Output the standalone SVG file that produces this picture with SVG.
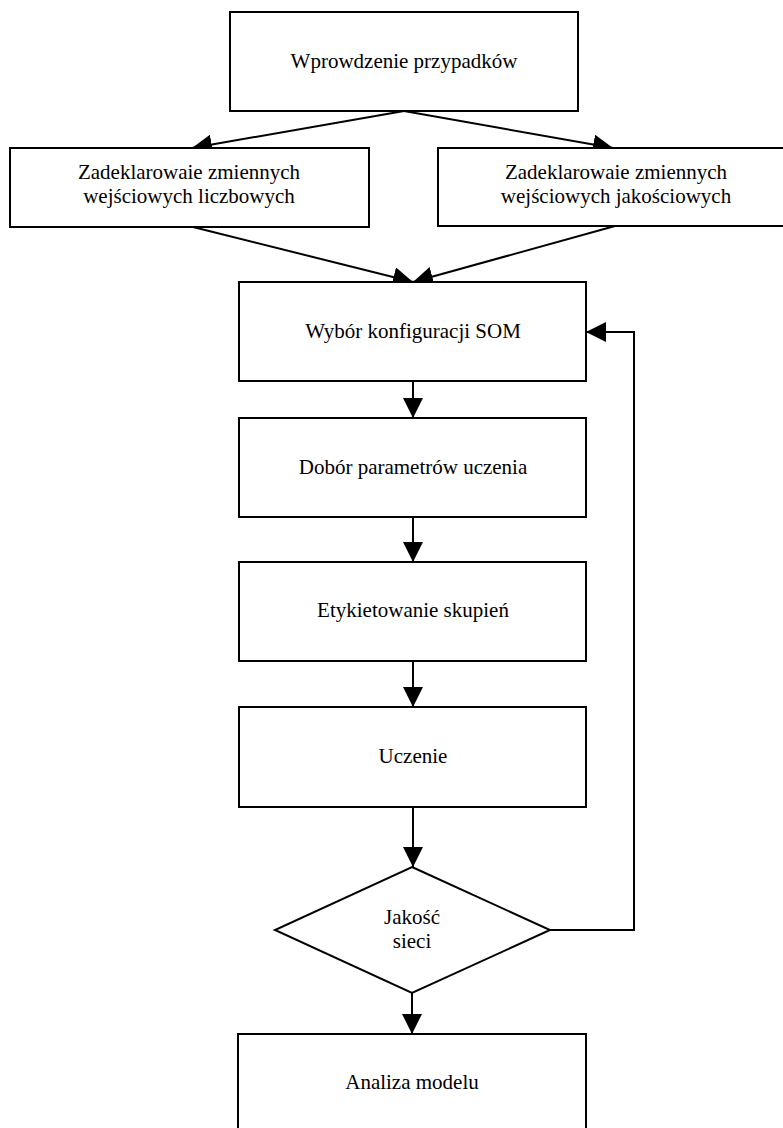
<svg xmlns="http://www.w3.org/2000/svg" width="783" height="1128" viewBox="0 0 783 1128">
<style>
.box{fill:#fff;stroke:#000;stroke-width:2}
.lbl{font-family:"Liberation Serif","Times New Roman",serif;font-size:21px;fill:#000;text-anchor:middle}
.con{fill:none;stroke:#000;stroke-width:2}
</style>
<defs>
<marker id="ah" viewBox="0 0 20 20" refX="20" refY="10" markerWidth="20" markerHeight="20" markerUnits="userSpaceOnUse" orient="auto">
<path d="M0,0 L20,10 L0,20 z" fill="#000"/>
</marker>
</defs>
<rect width="783" height="1128" fill="#fff"/>
<g id="connectors">
<line class="con" x1="404" y1="111" x2="192" y2="148" marker-end="url(#ah)"/>
<line class="con" x1="404" y1="111" x2="613" y2="148" marker-end="url(#ah)"/>
<line class="con" x1="193" y1="227" x2="413" y2="282" marker-end="url(#ah)"/>
<line class="con" x1="615" y1="226" x2="413" y2="282" marker-end="url(#ah)"/>
<line class="con" x1="413" y1="381" x2="413" y2="418" marker-end="url(#ah)"/>
<line class="con" x1="413" y1="517" x2="413" y2="562" marker-end="url(#ah)"/>
<line class="con" x1="413" y1="661" x2="413" y2="707" marker-end="url(#ah)"/>
<line class="con" x1="413" y1="807" x2="413" y2="867" marker-end="url(#ah)"/>
<line class="con" x1="412" y1="993" x2="412" y2="1034" marker-end="url(#ah)"/>
<polyline class="con" points="550,930 634,930 634,332 586,332" marker-end="url(#ah)"/>
</g>
<g id="n_wprowadzenie">
<rect class="box" x="230" y="12" width="348" height="99"/>
<text class="lbl" x="404" y="68">Wprowdzenie przypadków</text>
</g>
<g id="n_liczbowe">
<rect class="box" x="10" y="148" width="359" height="79"/>
<text class="lbl" x="189" y="179">Zadeklarowaie zmiennych</text>
<text class="lbl" x="189" y="203">wejściowych liczbowych</text>
</g>
<g id="n_jakosciowe">
<rect class="box" x="438" y="148" width="356" height="78"/>
<text class="lbl" x="616" y="179">Zadeklarowaie zmiennych</text>
<text class="lbl" x="616" y="203">wejściowych jakościowych</text>
</g>
<g id="n_som">
<rect class="box" x="239" y="282" width="347" height="99"/>
<text class="lbl" x="413" y="338">Wybór konfiguracji SOM</text>
</g>
<g id="n_dobor">
<rect class="box" x="239" y="418" width="347" height="99"/>
<text class="lbl" x="413" y="474">Dobór parametrów uczenia</text>
</g>
<g id="n_etykiety">
<rect class="box" x="239" y="562" width="347" height="99"/>
<text class="lbl" x="413" y="617">Etykietowanie skupień</text>
</g>
<g id="n_uczenie">
<rect class="box" x="239" y="707" width="347" height="100"/>
<text class="lbl" x="413" y="763">Uczenie</text>
</g>
<g id="n_jakosc">
<polygon class="box" points="412,867 550,930 412,993 275,930"/>
<text class="lbl" x="412" y="924">Jakość</text>
<text class="lbl" x="412" y="948">sieci</text>
</g>
<g id="n_analiza">
<rect class="box" x="238" y="1034" width="348" height="110"/>
<text class="lbl" x="412" y="1089">Analiza modelu</text>
</g>
</svg>
